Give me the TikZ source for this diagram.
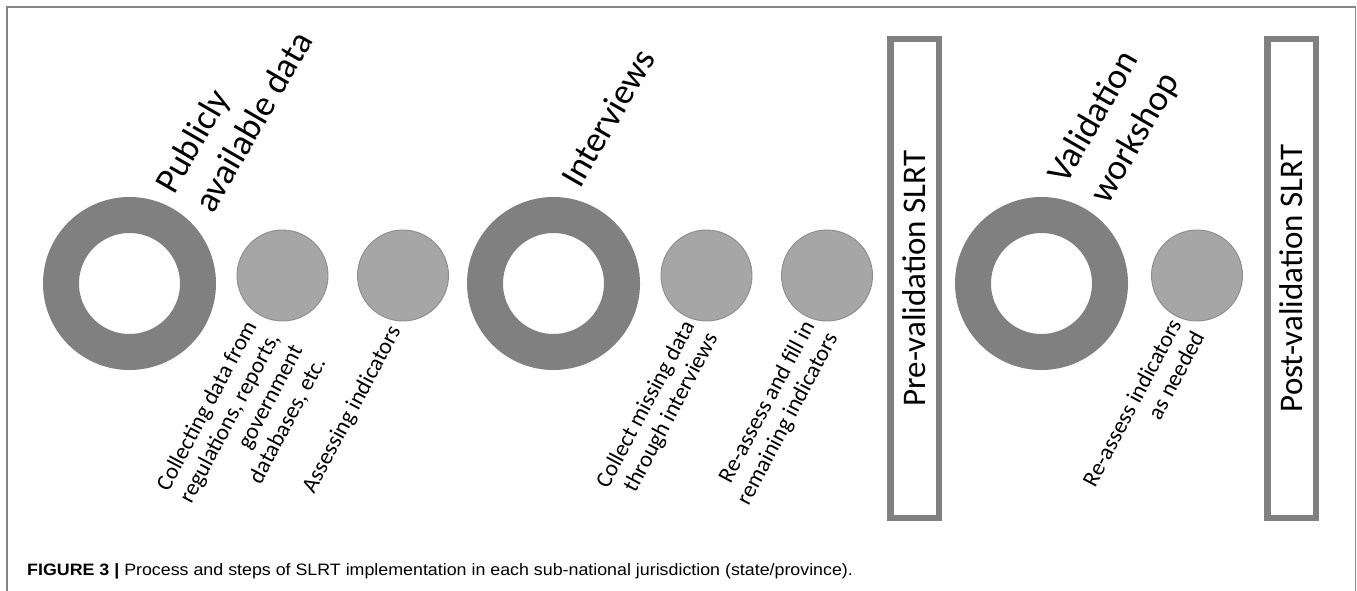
\documentclass[tikz,border=0pt]{standalone}
\usepackage{fontspec}
\setmainfont{Carlito}
\newfontfamily\capfont[FakeStretch=1.08]{Liberation Sans}
\definecolor{ringgray}{HTML}{808080}
\definecolor{dotfill}{HTML}{A6A6A6}
\definecolor{dotline}{HTML}{8C8C8C}
\definecolor{framegray}{HTML}{858585}
\begin{document}
\begin{tikzpicture}[x=1pt,y=-1pt,
  ring/.style={circle,draw=ringgray,line width=36pt,minimum size=137pt,inner sep=0pt},
  dot/.style={circle,fill=dotfill,draw=dotline,line width=0.9pt,minimum size=91pt,inner sep=0pt},
  stagebox/.style={draw=ringgray,line width=6.5pt,minimum width=48.5pt,minimum height=478.5pt,inner sep=0pt},
  boxtext/.style={rotate=90,font=\fontsize{33}{38}\selectfont},
  phase/.style={rotate=60,anchor=base west,inner sep=0pt,font=\fontsize{36}{43}\selectfont},
  steplabel/.style={rotate=62,anchor=north east,align=right,inner sep=0pt,font=\fontsize{23}{26}\selectfont}]
\useasboundingbox (0,0) rectangle (1357,591);
\draw[framegray,line width=1.5pt] (7,591) -- (7,7) -- (1355.5,7) -- (1355.5,591);
% rings
\node[ring] (r1) at (129.5,283.5) {};
\node[ring] (r2) at (553.5,283.5) {};
\node[ring] (r3) at (1041.5,283.5) {};
% dots
\node[dot] (d1) at (282.5,275.5) {};
\node[dot] (d2) at (403,275.5) {};
\node[dot] (d3) at (706.5,275.5) {};
\node[dot] (d4) at (827,275.5) {};
\node[dot] (d5) at (1197,275.5) {};
% boxes
\node[stagebox] (pre) at (914.5,278.5) {};
\node[stagebox] (post) at (1291.5,278.5) {};
\node[boxtext] (pret) at (pre.center) {Pre-validation SLRT};
\node[boxtext] (postt) at (post.center) {Post-validation SLRT};
% phase labels
\node[phase] (p1a) at (174,196) {Publicly};
\node[phase] (p1b) at (213,215) {available data};
\node[phase] (p2) at (580,190) {Interviews};
\node[phase] (p3a) at (1066,186) {Validation};
\node[phase] (p3b) at (1108,206) {workshop};
% step labels
\node[steplabel] (s1) at (243,318) {Collecting data from\\regulations, reports,\\government\\databases, etc.};
\node[steplabel] (s2) at (387,323) {Assessing indicators};
\node[steplabel] (s3) at (681,318) {Collect missing data\\through interviews};
\node[steplabel] (s4) at (801,318) {Re-assess and fill in\\remaining indicators};
\node[steplabel] (s5) at (1168,316.5) {Re-assess indicators\\as needed};
% caption
\node[anchor=base west,inner sep=0pt,font=\capfont\fontsize{16.5}{20}\selectfont] (cap) at (27,575) {\textbf{FIGURE 3} \textbf{|} Process and steps of SLRT implementation in each sub-national jurisdiction (state/province).};
\end{tikzpicture}
\end{document}
